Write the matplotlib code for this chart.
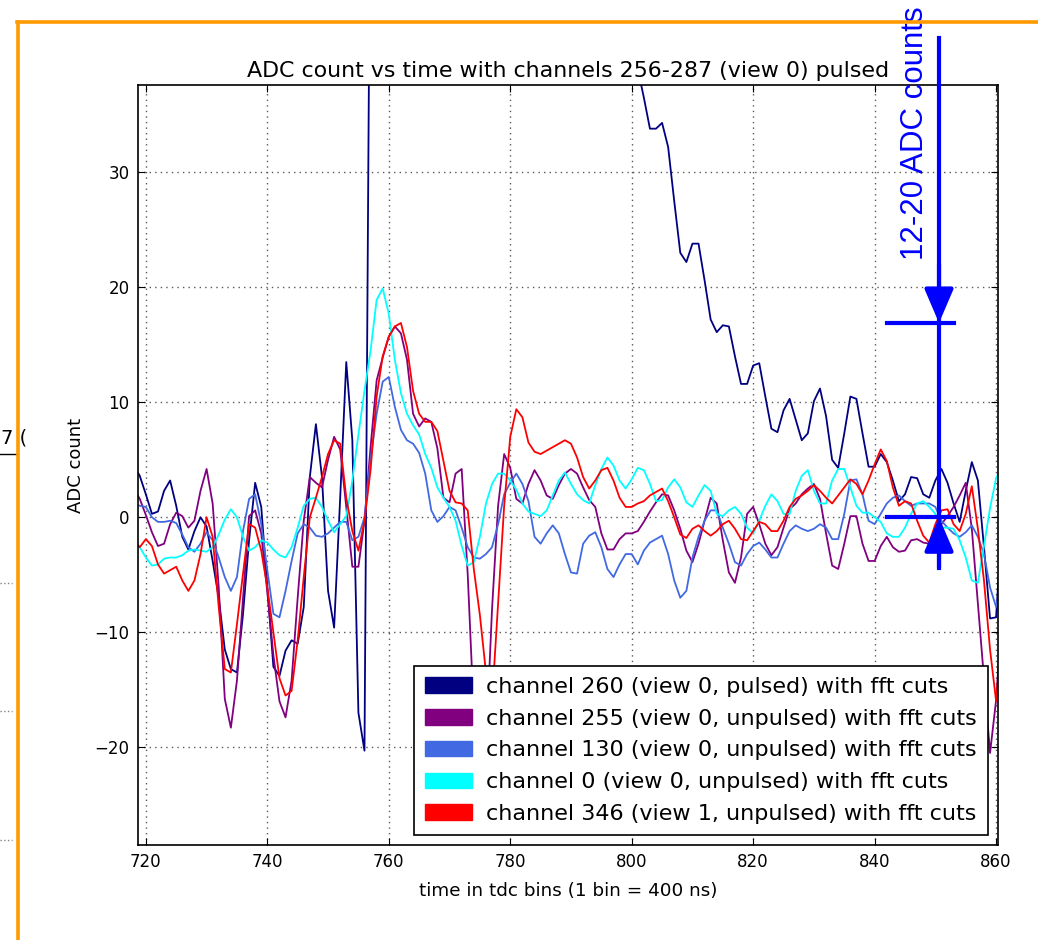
import numpy as np
import matplotlib
matplotlib.use('Agg')
import matplotlib.pyplot as plt
from matplotlib.patches import Patch
from matplotlib.lines import Line2D

# time axis in tdc bins
tdc_bins = np.arange(718, 862)

# channel 260 (view 0, pulsed) - the pulse itself runs off the top of the plot
ch260 = [
    4.5, 3.6, 2.0, 0.3, 0.5, 2.3, 3.2, 1.0, -1.7, -2.8,
    -1.2, 0.0, -0.8, -3.8, -7.0, -11.5, -13.2, -13.5, -8.4, -2.0,
    3.0, 0.9, -6.1, -13.0, -13.8, -11.6, -10.7, -11.0, -7.8, 3.5,
    8.1, 3.5, -6.4, -9.6, 1.7, 13.5, 6.7, -17.0, -20.3, 60.0,
    105, 135, 150, 155, 152, 146, 139, 132, 125, 118,
    112, 106, 100, 95, 90, 86, 82, 78, 75, 72,
    69, 67, 65, 63, 61, 59, 58, 56, 55, 54,
    53, 52, 51, 50, 49, 48, 47.5, 47, 46, 45,
    44, 42.5, 41, 39.0, 36.5, 33.8, 33.8, 34.3, 32.2, 27.5,
    23.0, 22.2, 23.8, 23.8, 20.6, 17.2, 16.1, 16.7, 16.6, 14.0,
    11.6, 11.6, 13.2, 13.4, 10.5, 7.7, 7.4, 9.3, 10.3, 8.5,
    6.7, 7.3, 10.1, 11.2, 8.8, 5.0, 4.3, 7.3, 10.5, 10.3,
    7.3, 4.4, 4.4, 5.5, 4.8, 3.2, 1.4, 2.0, 3.5, 3.4,
    2.0, 1.7, 3.2, 4.2, 3.0, 1.2, -0.4, 2.3, 4.8, 3.2,
    -2.6, -8.8, -8.7, 0.0,
]

# channel 255 (view 0, unpulsed)
ch255 = [
    2.5, 1.6, 0.2, -1.3, -2.5, -2.3, -0.6, 0.4, 0.1, -0.9,
    -0.3, 2.3, 4.2, 1.2, -6.1, -15.8, -18.3, -14.2, -7.0, 0.1,
    0.6, -1.4, -6.5, -12.0, -16.0, -17.4, -14.2, -7.0, -0.3, 3.5,
    3.0, 2.6, 5.0, 7.0, 5.9, 0.9, -4.3, -4.3, -0.3, 6.1,
    11.9, 13.9, 15.7, 16.6, 16.0, 13.7, 9.0, 7.9, 8.6, 8.3,
    6.0, 1.7, 1.3, 3.8, 4.2, -5.0, -17.0, -20.0, -20.0, -8.0,
    1.0, 5.5, 4.3, 1.6, 1.2, 2.9, 4.1, 3.2, 1.9, 1.6,
    2.8, 3.8, 4.2, 3.8, 2.6, 1.5, 0.9, -1.4, -2.8, -2.8,
    -1.9, -1.4, -1.4, -1.2, -0.4, 0.5, 1.3, 2.0, 1.9, 0.6,
    -1.0, -2.9, -3.9, -2.3, -0.3, 1.7, 1.2, -2.0, -4.8, -5.7,
    -3.5, 0.3, 0.9, -0.6, -2.3, -3.3, -2.6, -0.9, 0.7, 1.2,
    2.0, 2.5, 2.9, 1.6, -1.4, -4.2, -4.5, -2.3, 0.1, 0.1,
    -2.3, -3.8, -3.8, -2.5, -1.7, -2.6, -3.0, -2.9, -2.0, -1.9,
    -2.2, -2.3, -1.7, -0.6, 0.1, 0.9, 1.9, 3.0, -1.0, -7.5,
    -14.0, -20.5, -15.9, -8.0,
]

# channel 130 (view 0, unpulsed)
ch130 = [
    1.2, 1.0, 0.9, 0.0, -0.4, -0.4, -0.3, -0.5, -1.5, -2.6,
    -3.0, -2.3, -1.3, -2.0, -3.5, -5.2, -6.4, -5.2, -1.2, 1.6,
    2.0, -0.6, -4.6, -8.4, -8.7, -6.4, -3.8, -1.4, -0.6, -0.9,
    -1.6, -1.7, -1.4, -0.9, -0.4, -0.4, -2.0, -1.7, 0.0, 5.0,
    9.0, 11.8, 12.2, 9.6, 7.6, 6.7, 6.4, 5.6, 3.8, 0.6,
    -0.4, 0.1, 0.9, 0.6, -0.9, -2.6, -3.5, -3.6, -3.2, -2.6,
    -0.6, 2.0, 3.0, 3.8, 2.9, 1.4, -1.7, -2.3, -1.4, -0.7,
    -1.4, -3.2, -4.8, -4.9, -2.3, -1.6, -1.3, -2.6, -4.5, -5.2,
    -4.1, -3.2, -3.2, -4.1, -2.9, -2.2, -1.9, -1.6, -3.2, -5.5,
    -7.0, -6.4, -3.5, -1.7, -0.3, 0.6, 0.6, -0.9, -2.3, -3.9,
    -4.2, -3.2, -2.5, -2.2, -2.8, -3.5, -3.5, -2.3, -1.2, -0.7,
    -1.0, -1.2, -1.0, -0.6, -0.9, -1.9, -1.9, 0.3, 3.2, 3.3,
    2.0, -0.3, -0.6, 0.3, 1.2, 1.7, 1.9, 1.4, 1.0, 1.2,
    1.2, 1.2, 0.9, -0.3, -0.9, -1.4, -1.7, -1.3, -0.7, -1.7,
    -3.2, -6.1, -7.8, -5.0,
]

# channel 0 (view 0, unpulsed)
ch0 = [
    -2.0, -2.6, -3.5, -4.2, -4.1, -3.6, -3.5, -3.5, -3.3, -2.9,
    -2.8, -2.9, -3.0, -2.6, -1.5, -0.2, 0.7, 0.0, -1.7, -2.9,
    -2.6, -2.0, -2.2, -2.8, -3.3, -3.5, -2.6, -0.9, 1.0, 1.6,
    1.7, 0.9, -0.3, -1.3, -0.6, 0.1, 3.2, 7.2, 11.0, 14.5,
    18.9, 19.9, 17.7, 13.7, 10.8, 9.0, 8.0, 7.2, 5.5, 4.3,
    2.6, 1.7, 0.9, -0.3, -2.5, -4.2, -3.9, -1.7, 1.2, 2.9,
    3.8, 3.8, 3.2, 2.4, 1.2, 0.5, 0.3, 0.1, 0.6, 1.9,
    3.2, 3.9, 2.9, 2.0, 1.5, 1.2, 2.8, 4.2, 5.2, 4.5,
    3.2, 2.5, 3.3, 4.3, 4.1, 2.9, 1.4, 1.5, 2.6, 3.3,
    2.6, 1.3, 0.9, 1.9, 2.8, 2.3, 0.3, 0.1, 0.6, 0.9,
    0.3, -0.9, -1.4, -0.3, 1.0, 2.0, 1.4, 0.3, 0.3, 2.3,
    3.6, 4.1, 2.3, 1.2, 1.2, 3.2, 4.2, 4.2, 2.6, 1.0,
    0.4, 0.4, 0.0, -0.4, -1.4, -1.7, -1.7, -0.9, 0.3, 1.2,
    1.4, 0.9, 0.3, -0.9, -0.9, -1.0, -2.0, -3.5, -5.5, -5.7,
    -2.5, 0.8, 3.4, 4.5,
]

# channel 346 (view 1, unpulsed)
ch346 = [
    -2.0, -2.6, -1.9, -2.5, -4.1, -4.9, -4.6, -4.3, -5.5, -6.4,
    -5.5, -3.2, 0.0, -1.7, -7.8, -13.2, -13.5, -9.3, -4.9, -0.6,
    -0.9, -2.9, -6.1, -10.0, -14.0, -15.5, -15.1, -10.7, -5.2, 0.0,
    1.7, 3.5, 5.5, 6.7, 6.4, 1.7, -1.2, -2.9, -0.3, 4.1,
    10.5, 14.0, 15.7, 16.6, 16.9, 14.8, 11.0, 9.0, 8.3, 8.3,
    7.5, 4.9, 2.3, 1.3, 1.2, 0.6, -4.5, -8.5, -13.5, -16.0,
    -7.5, 1.0, 7.0, 9.4, 8.7, 6.5, 5.7, 5.5, 5.8, 6.1,
    6.4, 6.7, 6.4, 5.2, 3.5, 2.5, 3.2, 4.1, 4.3, 3.2,
    1.7, 0.9, 0.9, 1.2, 1.4, 1.9, 2.2, 2.5, 1.4, 0.0,
    -1.5, -1.8, -1.0, -0.7, -1.2, -1.6, -1.2, -0.6, -0.3, -1.0,
    -1.9, -2.0, -1.2, -0.4, -0.6, -1.2, -1.2, -0.3, 0.9, 1.6,
    1.9, 2.3, 2.8, 2.3, 1.7, 1.2, 1.9, 2.6, 3.3, 2.9,
    2.0, 3.2, 4.6, 5.9, 4.9, 2.6, 1.0, 1.4, 1.2, -0.3,
    -1.6, -2.2, -0.6, 0.6, 0.7, -0.6, -1.2, 0.3, 2.7, -1.0,
    -5.5, -11.5, -16.0, -10.0,
]

channels = [ch260, ch255, ch130, ch0, ch346]
colors = ['#000080', '#800080', '#4169e1', '#00ffff', '#ff0000']
labels = [
    'channel 260 (view 0, pulsed) with fft cuts',
    'channel 255 (view 0, unpulsed) with fft cuts',
    'channel 130 (view 0, unpulsed) with fft cuts',
    'channel 0 (view 0, unpulsed) with fft cuts',
    'channel 346 (view 1, unpulsed) with fft cuts',
]

fig = plt.figure(figsize=(10.38, 9.4), dpi=100)
ax = fig.add_axes([0.1329, 0.1011, 0.8285, 0.8085])

for vals, col in zip(channels, colors):
    ax.plot(tdc_bins, vals, color=col, lw=1.3)

ax.set_xlim(718.7, 860.3)
ax.set_ylim(-28.5, 37.6)
ax.set_xticks(range(720, 861, 20))
ax.set_yticks([-20, -10, 0, 10, 20, 30])
ax.grid(True, color='0.35', linestyle=(0, (1, 3)), linewidth=1.0)
ax.tick_params(direction='in', top=True, right=True, length=5, labelsize=12, pad=6)
for sp in ax.spines.values():
    sp.set_linewidth(1.2)

ax.set_title('ADC count vs time with channels 256-287 (view 0) pulsed', fontsize=15.9, pad=6)
ax.set_xlabel('time in tdc bins (1 bin = 400 ns)', fontsize=13.2, labelpad=8)
ax.set_ylabel('ADC count', fontsize=13, labelpad=7)

handles = [Patch(facecolor=c, edgecolor=c) for c in colors]
leg = ax.legend(handles, labels, loc='lower right', fontsize=16, fancybox=False,
                framealpha=1, edgecolor='black', borderaxespad=0.45,
                labelspacing=0.53, handlelength=2.1, handletextpad=0.65, borderpad=0.5)
leg.get_frame().set_linewidth(1.2)

# hand-drawn annotation on top of the plot
ann_x = 850.6
ax.plot([ann_x, ann_x], [41.7, -4.4], color='blue', lw=3, clip_on=False, zorder=6)
ax.plot([842.0, 853.1], [16.9, 16.9], color='blue', lw=3, clip_on=False, zorder=6)
ax.plot([842.0, 853.1], [0.0, 0.0], color='blue', lw=3, clip_on=False, zorder=6)
arrow_kw = dict(arrowstyle='-|>,head_length=1.05,head_width=0.45', color='blue',
                lw=3, mutation_scale=20, shrinkA=0, shrinkB=0)
ax.annotate('', xy=(ann_x, 16.9), xytext=(ann_x, 22.0), arrowprops=arrow_kw,
            annotation_clip=False, zorder=7)
ax.annotate('', xy=(ann_x, 0.0), xytext=(ann_x, -4.4), arrowprops=arrow_kw,
            annotation_clip=False, zorder=7)
ax.text(846.6, 33.4, '12-20 ADC counts', rotation=90, color='blue', fontsize=22.5,
        family='Liberation Sans', ha='center', va='center', clip_on=False, zorder=7)

# slide background fragments and orange frame
fig.text(0.001, 1 - 438 / 940, '7 (', ha='left', va='center', fontsize=14)
fig.add_artist(Line2D([0.0, 0.017], [1 - 454 / 940] * 2, transform=fig.transFigure,
                      color='black', lw=1))
for py in [583, 711, 840]:
    fig.add_artist(Line2D([0.0, 0.012], [1 - py / 940] * 2, transform=fig.transFigure,
                          color='0.5', lw=1, linestyle=':'))
orange = '#ff9a00'
fig.add_artist(Line2D([0.0178, 0.0178], [0.0, 0.9766], transform=fig.transFigure,
                      color=orange, lw=2.6, zorder=10))
fig.add_artist(Line2D([0.0165, 1.0], [0.9766, 0.9766], transform=fig.transFigure,
                      color=orange, lw=2.6, zorder=10))

fig.savefig('out.png', dpi=100)
